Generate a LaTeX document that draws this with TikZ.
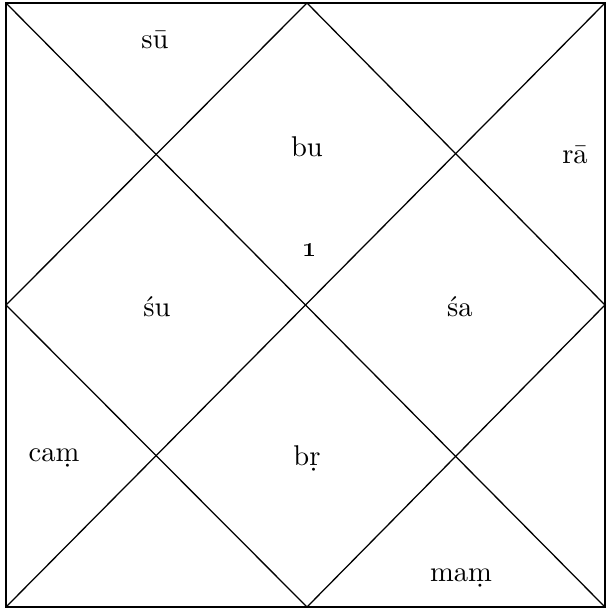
\documentclass[tikz,border=0pt]{standalone}
\usepackage{tikz}
\tikzset{
  chartline/.style={draw=black, line width=0.45pt},
  graha/.style={font=\normalsize, inner sep=1pt},
}

\begin{document}
\begin{tikzpicture}[x=0.35pt,y=-0.35pt]
  \useasboundingbox (0,0) rectangle (606,610);

  % corners and midpoints of the chart
  \coordinate (tl) at (6,3);
  \coordinate (tr) at (605,3);
  \coordinate (br) at (605,607);
  \coordinate (bl) at (6,607);
  \coordinate (tm) at (307,3);
  \coordinate (rm) at (605,305);
  \coordinate (bm) at (307,607);
  \coordinate (lm) at (6,305);

  \draw[chartline] (tl) -- (tr) -- (br) -- (bl) -- cycle;
  \draw[chartline] (tl) -- (br);
  \draw[chartline] (tr) -- (bl);
  \draw[chartline] (tm) -- (rm) -- (bm) -- (lm) -- cycle;

  % houses
  \node[graha] (su1) at (155,40) {s\=u};
  \node[graha] (bu) at (307,147) {bu};
  \node[graha] (lagna) at (310,250) {\oldstylenums{1}};
  \node[graha] (rah) at (575,155) {r\=a};
  \node[graha] (shu) at (157,307) {\'su};
  \node[graha] (sha) at (460,307) {\'sa};
  \node[graha] (cha) at (54,458) {ca\d{m}};
  \node[graha] (bri) at (307,458) {b\d{r}};
  \node[graha] (mam) at (461,578) {ma\d{m}};
\end{tikzpicture}
\end{document}
